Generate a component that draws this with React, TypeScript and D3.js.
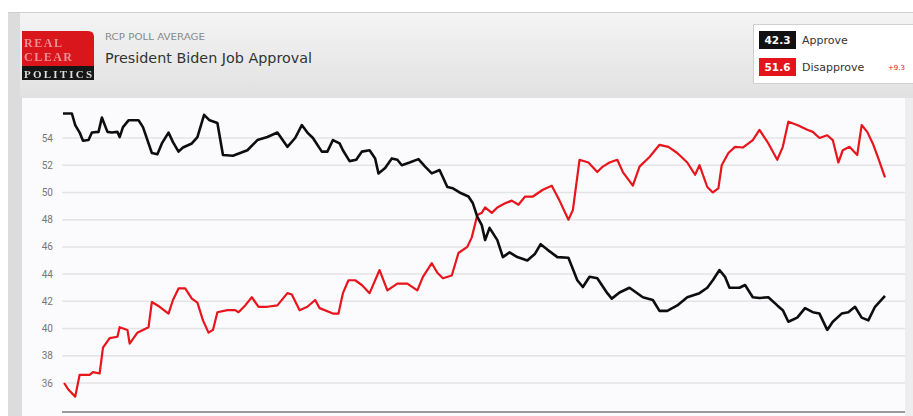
import * as d3 from "d3";

// RCP poll average (day offset, percent)
const approve: [number, number][] = [
  [0, 55.8], [8, 55.8], [11, 54.95], [15, 54.4], [18, 53.8], [23, 53.85], [26, 54.4],
  [32, 54.45], [35, 55.5], [40, 54.45], [44, 54.4], [49, 54.45], [51, 54.07], [54, 54.8],
  [59, 55.3], [68, 55.3], [72, 54.8], [80, 52.9], [85, 52.8], [89, 53.6], [95, 54.4],
  [99, 53.7], [104, 53.0], [108, 53.3], [116, 53.6], [121, 54.07], [127, 55.7], [132, 55.3],
  [139, 55.1], [144, 52.75], [153, 52.7], [166, 53.1], [175, 53.85], [184, 54.07],
  [193, 54.4], [202, 53.35], [209, 54.0], [215, 54.95], [220, 54.4], [225, 54.0],
  [233, 53.0], [238, 53.0], [243, 53.85], [249, 53.6], [252, 53.1], [258, 52.3],
  [264, 52.4], [269, 53.0], [276, 53.1], [281, 52.5], [284, 51.4], [290, 51.8],
  [296, 52.5], [301, 52.4], [305, 52.0], [312, 52.2], [320, 52.45], [326, 51.9],
  [332, 51.4], [339, 51.65], [346, 50.4], [351, 50.3], [357, 50.0], [365, 49.7],
  [369, 49.2], [373, 48.2], [377, 47.6], [380, 46.5], [384, 47.4], [391, 46.5],
  [396, 45.25], [402, 45.6], [409, 45.25], [418, 45.0], [425, 45.5], [430, 46.2],
  [436, 45.8], [445, 45.25], [455, 45.2], [463, 43.55], [468, 43.05], [474, 43.8],
  [481, 43.7], [490, 42.6], [494, 42.2], [501, 42.65], [510, 43.0], [522, 42.3],
  [531, 42.1], [537, 41.3], [544, 41.3], [553, 41.7], [562, 42.3], [573, 42.6],
  [580, 43.0], [585, 43.55], [591, 44.3], [596, 43.8], [600, 43.0], [609, 43.0],
  [614, 43.2], [621, 42.3], [627, 42.25], [635, 42.3], [643, 41.7], [648, 41.35],
  [653, 40.5], [661, 40.8], [668, 41.5], [675, 41.2], [681, 41.1], [688, 39.9],
  [693, 40.5], [701, 41.1], [707, 41.2], [713, 41.6], [719, 40.8], [725, 40.6],
  [731, 41.6], [740, 42.4],
];

const disapprove: [number, number][] = [
  [1, 36.0], [5, 35.5], [11, 35.0], [15, 36.6], [24, 36.6], [27, 36.8], [33, 36.7],
  [36, 38.6], [42, 39.3], [49, 39.4], [51, 40.1], [58, 39.9], [60, 38.9], [67, 39.7],
  [72, 39.9], [77, 40.1], [80, 41.95], [87, 41.6], [95, 41.1], [99, 42.1], [104, 42.95],
  [110, 42.95], [116, 42.2], [121, 41.9], [126, 40.6], [131, 39.7], [135, 39.9],
  [139, 41.2], [148, 41.35], [155, 41.35], [158, 41.2], [164, 41.7], [170, 42.3],
  [176, 41.6], [184, 41.6], [193, 41.7], [202, 42.6], [206, 42.5], [213, 41.35],
  [220, 41.6], [227, 42.1], [231, 41.5], [243, 41.1], [248, 41.1], [252, 42.6],
  [257, 43.55], [263, 43.55], [269, 43.2], [276, 42.6], [285, 44.3], [292, 42.8],
  [301, 43.3], [310, 43.3], [319, 42.8], [324, 43.8], [332, 44.8], [337, 44.1],
  [342, 43.7], [350, 43.9], [356, 45.55], [364, 46.0], [368, 46.7], [373, 48.35],
  [377, 48.5], [380, 48.9], [386, 48.5], [391, 48.9], [398, 49.2], [404, 49.4],
  [410, 49.1], [416, 49.7], [423, 49.7], [432, 50.2], [440, 50.5], [447, 49.4],
  [455, 48.0], [459, 48.7], [465, 52.4], [473, 52.2], [481, 51.5], [486, 51.9],
  [492, 52.2], [499, 52.4], [504, 51.5], [513, 50.5], [519, 51.9], [528, 52.6],
  [537, 53.5], [545, 53.35], [553, 52.9], [562, 52.2], [569, 51.3], [573, 52.0],
  [580, 50.4], [585, 50.0], [590, 50.3], [593, 52.0], [599, 52.9], [605, 53.35],
  [612, 53.3], [621, 53.85], [627, 54.6], [635, 53.6], [643, 52.4], [648, 53.35],
  [653, 55.2], [661, 54.95], [670, 54.6], [675, 54.45], [681, 54.0], [688, 54.2],
  [693, 53.85], [698, 52.2], [702, 53.1], [708, 53.35], [715, 52.75], [719, 54.95],
  [724, 54.45], [729, 53.6], [734, 52.5], [740, 51.1],
];

const yTicks = [36, 38, 40, 42, 44, 46, 48, 50, 52, 54];
const legendItems = [
  { label: "Approve", value: "42.3", color: "#111111" },
  { label: "Disapprove", value: "51.6", color: "#e3141c" },
];
const spread = "+9.3";
const subtitle = "RCP POLL AVERAGE";
const title = "President Biden Job Approval";

const W = 913;
const H = 416;
const FONT = "'DejaVu Sans', Verdana, sans-serif";
const TICK_FONT = "Roboto, 'Liberation Sans', Arial, sans-serif";

export default function App() {
  const x = d3.scaleLinear().domain([0, 740]).range([63, 885]);
  const y = d3.scaleLinear().domain([36, 54]).range([383, 138]);

  const line = d3
    .line<[number, number]>()
    .x((d) => x(d[0]))
    .y((d) => y(d[1]));

  return (
    <svg
      width={W}
      height={H}
      style={{ position: "absolute", left: 0, top: 0, background: "#fff" }}
    >
      <defs>
        <linearGradient id="hdr" x1="0" y1="0" x2="0" y2="1">
          <stop offset="0" stopColor="#f4f4f4" />
          <stop offset="1" stopColor="#e1e1e1" />
        </linearGradient>
        <filter id="soft" x="-5%" y="-5%" width="110%" height="110%">
          <feGaussianBlur stdDeviation="0.45" />
        </filter>
      </defs>

      {/* card frame */}
      <rect x={8} y={12} width={W - 8} height={H - 12} fill="#dcdcdc" />
      <rect x={20} y={13} width={W - 20} height={85} fill="url(#hdr)" />
      <line x1={8} x2={W} y1={12.5} y2={12.5} stroke="#cfcfcf" />
      <rect x={22} y={98} width={883} height={H - 98} fill="#fbfbfd" />
      <rect x={905} y={98} width={8} height={H - 98} fill="#ededed" />

      {/* logo */}
      <g filter="url(#soft)">
        <path d="M22,31 H88 Q94,31 94,37 V67 H22 Z" fill="#d9131c" />
        <rect x={22} y={66} width={72} height={14} fill="#141414" />
        <g fontFamily="'Liberation Serif', 'DejaVu Serif', serif" fontWeight="bold">
          <text x={24} y={47} fontSize={12} fill="#ee8f93" textLength={38}>REAL</text>
          <text x={24} y={61} fontSize={12} fill="#ee8f93" textLength={48}>CLEAR</text>
          <text x={24} y={78} fontSize={11} fill="#dcdcdc" textLength={68}>POLITICS</text>
        </g>
      </g>

      {/* titles */}
      <text
        x={105}
        y={40}
        fontSize={8}
        fill="#888"
        fontFamily={FONT}
        textLength={100}
        lengthAdjust="spacingAndGlyphs"
      >
        {subtitle}
      </text>
      <text
        x={105}
        y={63}
        fontSize={13.5}
        fill="#333"
        fontFamily={FONT}
        textLength={207}
        lengthAdjust="spacingAndGlyphs"
      >
        {title}
      </text>

      {/* legend */}
      <rect x={753.5} y={24.5} width={160} height={59} fill="#fff" stroke="#d0d0d0" />
      {legendItems.map((item, i) => (
        <g key={item.label} transform={`translate(0,${i * 27})`} fontFamily={FONT}>
          <rect x={759} y={31} width={37} height={18} fill={item.color} />
          <text
            x={777.5}
            y={44}
            textAnchor="middle"
            fontSize={10.5}
            fontWeight="bold"
            fill="#fff"
          >
            {item.value}
          </text>
          <text x={802} y={44} fontSize={11} fill="#333">
            {item.label}
          </text>
        </g>
      ))}
      <text x={888} y={70} fontSize={7} fill="#e3141c" fontFamily={FONT}>
        {spread}
      </text>

      {/* grid */}
      {yTicks.map((t) => (
        <g key={t}>
          <line
            x1={62}
            x2={905}
            y1={y(t)}
            y2={y(t)}
            stroke="#e4e4e8"
            strokeWidth={1.5}
          />
          <text
            x={53}
            y={y(t) + 3.5}
            textAnchor="end"
            fontSize={10}
            fill="#777"
            fontFamily={TICK_FONT}
          >
            {t}
          </text>
        </g>
      ))}
      <line x1={62} x2={905} y1={412} y2={412} stroke="#9a9a9a" strokeWidth={2} />

      {/* series */}
      <g filter="url(#soft)">
        <path
          d={line(disapprove) ?? ""}
          fill="none"
          stroke="#e8141d"
          strokeWidth={2.2}
          strokeLinejoin="round"
        />
        <path
          d={line(approve) ?? ""}
          fill="none"
          stroke="#111"
          strokeWidth={2.6}
          strokeLinejoin="round"
        />
      </g>
    </svg>
  );
}
